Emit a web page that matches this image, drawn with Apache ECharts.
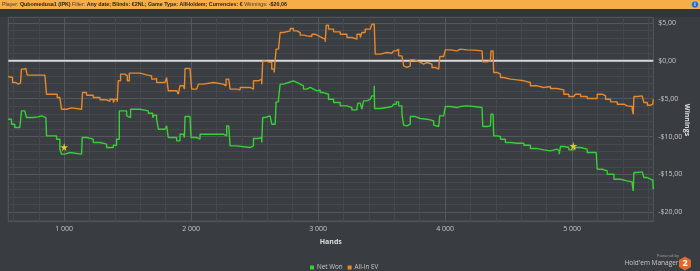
<!DOCTYPE html>
<html><head><meta charset="utf-8">
<script src="https://cdn.jsdelivr.net/npm/echarts@6/dist/echarts.min.js"></script>
<style>html,body{margin:0;padding:0;background:#393c40}#c{width:700px;height:271px}</style>
</head><body><div id="c"></div>
<script>
// ---- data ----
const xMin = 560, xMax = 5640;
const yMin = -21.25, yMax = 5.75;
const evHands = [559,572,593,619,638,656,664,682,698,709,756,795,808,848,861,927,945,966,979,1019,1058,1137,1145,1176,1229,1282,1334,1360,1387,1400,1418,1426,1444,1479,1497,1513,1544,1597,1650,1689,1707,1728,1755,1794,1807,1820,1886,1899,1912,1939,1947,1952,1991,2004,2044,2057,2096,2175,2254,2275,2296,2307,2359,2386,2464,2491,2530,2556,2564,2583,2609,2635,2654,2662,2669,2688,2701,2727,2780,2806,2832,2859,2885,2911,2924,2951,2977,3003,3030,3056,3064,3082,3122,3174,3227,3266,3306,3332,3345,3371,3411,3424,3442,3450,3490,3542,3582,3595,3616,3634,3660,3674,3687,3700,3726,3752,3779,3805,3831,3858,3897,3923,3950,3958,3989,4002,4042,4094,4120,4173,4226,4291,4297,4331,4357,4362,4378,4383,4410,4436,4462,4515,4567,4620,4672,4725,4778,4830,4883,4935,4975,5014,5027,5067,5119,5172,5198,5238,5264,5303,5356,5408,5435,5474,5482,5487,5514,5553,5566,5593,5619,5636,5640];
const evValues = [-2.07,-2.20,-2.86,-3.08,-2.95,-2.86,-1.10,-1.01,-1.19,-1.89,-1.89,-1.63,-1.89,-2.07,-4.41,-4.41,-4.85,-5.07,-6.39,-6.21,-6.39,-6.52,-4.19,-4.54,-4.85,-5.15,-5.37,-5.07,-5.51,-5.07,-5.42,-2.64,-1.76,-1.98,-2.64,-1.63,-1.63,-1.85,-1.98,-2.42,-2.33,-2.86,-2.86,-3.08,-2.20,-3.96,-4.19,-4.41,-3.30,-3.08,-3.74,-1.01,-1.10,-3.74,-3.52,-3.08,-2.86,-3.08,-3.30,-2.42,-2.42,-3.74,-3.83,-3.52,-3.74,-2.64,-2.42,-3.08,0.00,-0.13,-0.22,-1.10,-1.54,-1.32,1.54,1.63,3.74,3.96,4.27,3.96,3.74,3.39,3.30,3.52,3.22,3.52,3.30,3.08,2.86,2.51,4.71,4.19,3.83,3.52,3.08,2.86,3.52,3.08,3.74,4.19,4.27,4.85,4.71,0.88,1.10,1.01,1.10,1.32,1.54,0.66,0.44,-0.66,-0.88,-0.66,0.13,0.00,-0.22,-0.44,-0.22,-0.44,-0.88,-1.10,-0.88,0.57,0.57,1.45,1.32,1.54,1.45,1.41,1.32,1.32,-0.13,0.00,-0.13,1.32,1.10,-1.54,-1.76,-2.20,-2.42,-2.51,-2.64,-2.86,-3.30,-3.52,-3.39,-3.66,-3.83,-4.41,-4.71,-4.85,-4.41,-4.71,-4.98,-4.98,-4.41,-4.63,-5.07,-5.42,-5.73,-5.95,-6.04,-6.39,-7.05,-4.71,-4.63,-4.85,-5.51,-5.86,-5.73,-5.86,-5.07];
const netHands = [559,585,611,651,664,690,703,756,795,822,856,861,913,940,966,979,1006,1045,1137,1142,1176,1229,1282,1334,1387,1413,1434,1466,1492,1505,1523,1597,1663,1697,1710,1728,1742,1794,1807,1820,1886,1912,1939,1947,1952,1991,1999,2044,2070,2175,2254,2280,2296,2307,2359,2464,2491,2530,2556,2564,2583,2622,2635,2662,2669,2688,2701,2727,2767,2780,2806,2832,2859,2885,2911,2938,2964,2990,3016,3043,3082,3122,3174,3227,3266,3306,3314,3332,3345,3358,3385,3411,3424,3442,3445,3463,3490,3542,3582,3595,3616,3634,3660,3674,3687,3700,3726,3766,3805,3858,3884,3910,3923,3950,3958,3989,4002,4042,4094,4120,4173,4226,4291,4297,4331,4357,4362,4378,4383,4410,4436,4475,4515,4567,4620,4672,4725,4778,4830,4883,4899,4909,4935,4975,5014,5027,5067,5119,5190,5198,5238,5277,5330,5382,5435,5474,5482,5487,5514,5553,5566,5593,5619,5636,5640];
const netValues = [-7.71,-8.37,-8.81,-8.81,-6.61,-6.61,-7.49,-7.40,-7.27,-7.49,-7.71,-9.91,-9.91,-10.35,-11.67,-12.33,-12.11,-12.33,-12.56,-10.13,-10.35,-10.79,-11.01,-11.45,-11.15,-10.35,-6.61,-6.61,-7.27,-7.49,-6.39,-6.61,-6.92,-7.49,-7.18,-7.71,-9.03,-9.25,-8.59,-10.13,-10.57,-9.69,-9.69,-10.13,-7.36,-7.49,-10.13,-10.35,-9.69,-9.69,-9.91,-8.59,-8.59,-11.23,-11.45,-11.23,-10.26,-10.13,-10.79,-7.49,-7.27,-7.49,-8.37,-8.50,-5.42,-5.07,-3.08,-2.86,-2.86,-2.64,-2.86,-3.08,-3.30,-3.74,-3.52,-3.74,-3.96,-3.83,-4.19,-4.41,-5.07,-5.51,-5.95,-6.17,-6.48,-6.17,-5.59,-5.59,-6.39,-5.29,-5.07,-4.98,-4.63,-3.30,-6.30,-6.30,-6.17,-6.04,-6.04,-5.73,-5.42,-5.95,-7.05,-8.50,-8.59,-8.37,-7.36,-7.62,-7.71,-7.80,-7.93,-8.50,-8.68,-8.50,-7.27,-7.18,-6.04,-6.17,-6.04,-5.95,-6.04,-6.17,-6.17,-8.68,-8.59,-8.68,-7.05,-7.27,-9.91,-10.00,-10.35,-10.79,-10.88,-10.88,-11.15,-11.59,-11.76,-11.89,-11.67,-11.89,-12.33,-11.32,-11.45,-11.76,-11.89,-11.45,-11.67,-12.11,-12.11,-14.32,-14.54,-14.98,-15.64,-15.86,-15.99,-16.30,-17.18,-14.76,-14.67,-14.85,-15.42,-15.64,-15.73,-15.86,-16.96];
const starHands = [1000, 5010];
const starValues = [-11.4, -11.25];
const zeroLevel = 0;

// ---- styles ----
const T = 'rgba(0,0,0,0)', MINOR = '#45484c', MAJOR = '#54575b';
const xColors = Array(25).fill(T); [1,6,16,21].forEach(i => xColors[i] = MINOR); xColors[11] = MAJOR;
const yColors = Array(20).fill(T); [1,9,13,17].forEach(i => yColors[i] = MINOR); yColors[5] = MAJOR;
const FONT = '"Open Sans", "Noto Sans", sans-serif';

const zip = (a, b) => a.map((v, i) => [v, b[i]]);

const chart = echarts.init(document.getElementById('c'), null, {renderer: 'canvas'});
chart.setOption({
  backgroundColor: '#393c40',
  animation: false,
  grid: {left: 8.3, right: 46.7, top: 17.3, bottom: 49.3, show: true, borderColor: '#56595d', borderWidth: 1, backgroundColor: '#3a3d41'},
  legend: {
    data: ['Net Won', 'All-In EV'], left: 305, top: 259.5, icon: 'rect', itemWidth: 4, itemHeight: 4, itemGap: 5,
    textStyle: {color: '#c8c8c8', fontSize: 6.3, fontFamily: FONT, padding: [0, 0, 0, -2]}
  },
  xAxis: {
    type: 'value', min: xMin, max: xMax, interval: 40,
    axisLine: {show: false}, axisTick: {show: false},
    splitLine: {show: true, lineStyle: {color: xColors, width: 1}},
    axisLabel: {
      margin: 4, color: '#c8c8c8', fontSize: 7, fontFamily: FONT,
      formatter: v => (Math.abs(v % 1000) < 1e-6 && v !== 0) ? (v / 1000) + ' 000' : ''
    }
  },
  yAxis: {
    type: 'value', position: 'right', min: yMin, max: yMax, interval: 0.25,
    axisLine: {show: false}, axisTick: {show: false},
    splitLine: {show: true, lineStyle: {color: yColors, width: 1}},
    axisLabel: {
      margin: 5, color: '#c8c8c8', fontSize: 7, fontFamily: FONT,
      formatter: v => {
        if (Math.abs(v - Math.round(v / 5) * 5) > 1e-6) return '';
        const r = Math.round(v);
        return (r < 0 ? '-' : '') + '$' + Math.abs(r) + ',00';
      }
    }
  },
  series: [
    {
      name: 'zero', type: 'line', data: [[xMin, zeroLevel], [xMax, zeroLevel]], symbol: 'none',
      lineStyle: {color: '#d6d6d6', width: 2}, silent: true, z: 2
    },
    {
      name: 'All-In EV', type: 'line', step: 'end', data: zip(evHands, evValues), symbol: 'none',
      itemStyle: {color: '#e8892c'}, lineStyle: {color: '#e8892c', width: 1.4}, z: 3
    },
    {
      name: 'Net Won', type: 'line', step: 'end', data: zip(netHands, netValues), symbol: 'none',
      itemStyle: {color: '#36d136'}, lineStyle: {color: '#36d136', width: 1.4}, z: 4
    },
    {
      name: 'stars', type: 'scatter', data: zip(starHands, starValues),
      symbol: 'path://M50,0 L61,35 L98,35 L68,57 L79,91 L50,70 L21,91 L32,57 L2,35 L39,35 Z',
      symbolSize: 8, itemStyle: {color: '#ffec1a'}, z: 5, silent: true
    }
  ],
  graphic: [
    {type: 'rect', shape: {x: 0, y: 0, width: 700, height: 9}, style: {fill: '#f5ae48'}, z: -10},
    {type: 'rect', shape: {x: 0, y: 9, width: 700, height: 8}, style: {fill: '#323539'}, z: -10},
    {type: 'text', x: 2, y: 4.6, z: 12, style: {
      text: '{a|Player:} {b|Qubomedusa1 (IPK)} {a|Filter:} {b|Any date; Blinds: €2NL; Game Type: AllHoldem; Currencies: €} {a|Winnings:} {b|-$20,06}',
      textVerticalAlign: 'middle', textAlign: 'left', font: '5.3px "Liberation Sans"',
      rich: {
        a: {fontSize: 5.3, fill: '#3a3a3a', fontFamily: 'Liberation Sans', lineHeight: 7},
        b: {fontSize: 5.3, fill: '#1e1e1e', fontWeight: 'bold', fontFamily: 'Liberation Sans', lineHeight: 7}
      }
    }},
    {type: 'circle', shape: {cx: 695, cy: 4.5, r: 3.5}, style: {fill: '#1e6cc4', stroke: '#bcd4f0', lineWidth: 0.5}, z: 10},
    {type: 'text', x: 695, y: 4.7, style: {text: 'i', fill: '#fff', font: 'bold 5px "Liberation Sans"', textAlign: 'center', textVerticalAlign: 'middle'}, z: 11},
    {type: 'text', x: 330.8, y: 241.7, style: {text: 'Hands', fill: '#dcdcdc', font: 'bold 7px ' + FONT, textAlign: 'center', textVerticalAlign: 'middle'}},
    {type: 'text', x: 687, y: 120, rotation: -Math.PI / 2, style: {text: 'Winnings', fill: '#dcdcdc', font: 'bold 7px ' + FONT, textAlign: 'center', textVerticalAlign: 'middle'}},
    {type: 'text', x: 679, y: 255.5, style: {text: 'Powered by', fill: '#a8a8a8', font: '4px ' + FONT, textAlign: 'right', textVerticalAlign: 'middle'}},
    {type: 'text', x: 678.5, y: 263.5, style: {text: "Hold'em Manager", fill: '#c8c8c8', font: '6.5px ' + FONT, textAlign: 'right', textVerticalAlign: 'middle'}},
    {type: 'polygon', shape: {points: [[685,256.5],[691,260],[691,267],[685,270.5],[679,267],[679,260]]}, style: {fill: '#e2692a'}},
    {type: 'text', x: 685, y: 263.7, style: {text: '2', fill: '#fff', font: 'bold 9px ' + FONT, textAlign: 'center', textVerticalAlign: 'middle'}}
  ]
});
</script></body></html>
